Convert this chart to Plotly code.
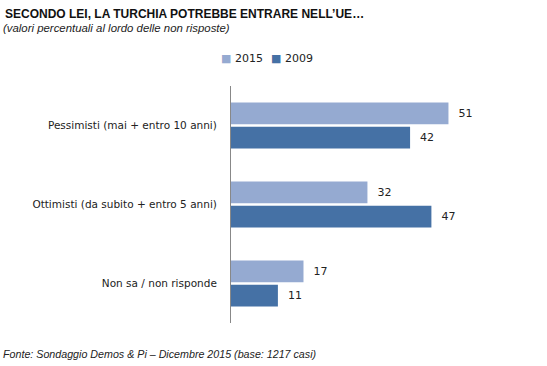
import plotly.graph_objects as go

categories = ["Pessimisti (mai + entro 10 anni)",
              "Ottimisti (da subito + entro 5 anni)",
              "Non sa / non risponde"]
series_names = ["2015", "2009"]
values_2015 = [51, 32, 17]
values_2009 = [42, 47, 11]

colors = {"2015": "#95aad1", "2009": "#4571a5"}

L, R, T, B = 231, 9, 86, 43
PW = 547 - L - R
PH = 366 - T - B

fig = go.Figure()
for name, vals in zip(series_names, [values_2015, values_2009]):
    fig.add_trace(go.Bar(
        y=categories, x=vals, name=name, orientation="h",
        marker=dict(color=colors[name], line=dict(width=0)),
        text=vals, texttemplate="  %{x}", textposition="outside",
        textfont=dict(family="DejaVu Sans", size=11, color="#222222"),
        cliponaxis=False, showlegend=False,
    ))

# compact legend, drawn as text entries in the figure header
legend_x = [219, 269]
legend_annots = [
    dict(text=f"<span style='color:{colors[n]}'>■</span> {n}",
         xref="paper", yref="paper", x=(lx - L) / PW, y=1 + (T - 58) / PH,
         xanchor="left", yanchor="middle", showarrow=False,
         font=dict(family="DejaVu Sans", size=11, color="#222222"))
    for n, lx in zip(series_names, legend_x)
]

fig.update_layout(
    width=547, height=366,
    margin=dict(l=L, r=R, t=T, b=B),
    paper_bgcolor="white", plot_bgcolor="white",
    barmode="group", bargap=0.39, bargroupgap=0.1,
    showlegend=False,
    xaxis=dict(range=[0, 72], showgrid=False, zeroline=False, showticklabels=False,
               showline=False, ticks=""),
    yaxis=dict(autorange="reversed", showgrid=False, zeroline=False, showline=True,
               linecolor="#888888", linewidth=1, ticks="", ticklabelstandoff=11,
               tickfont=dict(family="DejaVu Sans", size=10.5, color="#222222")),
    font=dict(family="Liberation Sans"),
    annotations=[
        dict(text="<b>SECONDO LEI, LA TURCHIA POTREBBE ENTRARE NELL’UE…</b>",
             xref="paper", yref="paper", x=(3 - L) / PW, y=1 + (T - 14) / PH, xanchor="left",
             yanchor="middle", showarrow=False,
             font=dict(family="Liberation Sans", size=12, color="#111111")),
        dict(text="<i>(valori percentuali al lordo delle non risposte)</i>",
             xref="paper", yref="paper", x=(1 - L) / PW, y=1 + (T - 28) / PH, xanchor="left",
             yanchor="middle", showarrow=False,
             font=dict(family="Liberation Sans", size=11.4, color="#222222")),
        dict(text="<i>Fonte: Sondaggio Demos & Pi – Dicembre 2015 (base: 1217 casi)</i>",
             xref="paper", yref="paper", x=(1 - L) / PW, y=-(354 - (366 - B)) / PH, xanchor="left",
             yanchor="middle", showarrow=False,
             font=dict(family="Liberation Sans", size=10.7, color="#222222")),
    ] + legend_annots,
)

fig.write_html("out.html", config={"displayModeBar": False},
               post_script="document.body.style.margin='0';")
